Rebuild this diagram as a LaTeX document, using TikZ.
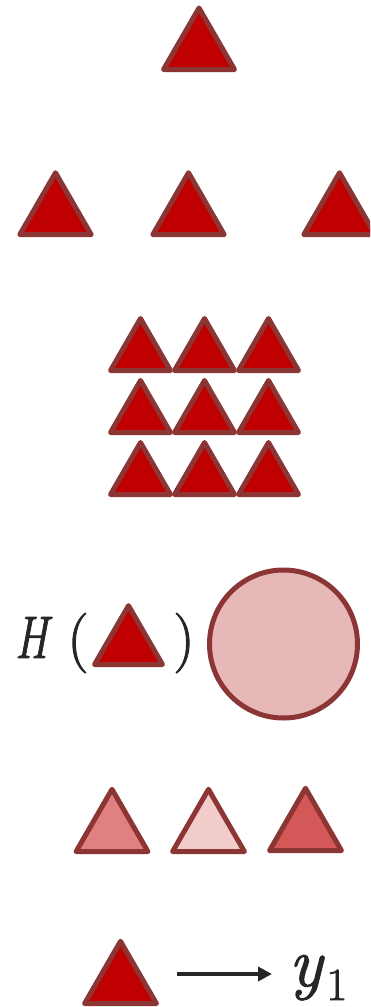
\documentclass[tikz,border=0pt]{standalone}
\usepackage{fontspec}
\usepackage{graphicx}
\newfontfamily\heavyfont[FakeBold=1.6]{Latin Modern Roman}
\usetikzlibrary{shapes.geometric,arrows.meta,calc}
\definecolor{trifill}{HTML}{C00000}
\definecolor{triline}{HTML}{8C3535}
\definecolor{circfill}{HTML}{E6B9B8}
\definecolor{tA}{HTML}{E08181}
\definecolor{tB}{HTML}{F2CBCB}
\definecolor{tC}{HTML}{D55858}
\definecolor{ink}{HTML}{262626}
\tikzset{
  tri/.style={regular polygon, regular polygon sides=3, draw=triline, line width=5pt,
    line join=round, inner sep=0pt, outer sep=0pt, minimum size=#1, fill=trifill},
  tri/.default=82pt,
  mathtxt/.style={inner sep=0pt, outer sep=0pt, text=ink, font=\heavyfont\fontsize{60}{60}\selectfont},
  arr/.style={-{Triangle[length=14pt,width=14pt]}, line width=3.5pt, draw=ink}
}
\begin{document}
\begin{tikzpicture}[x=1pt,y=-1pt]
\useasboundingbox (0,0) rectangle (370,1007);
\clip (0,0) rectangle (370,1007);
% row 1
\node[tri] (t0) at (199,49) {};
% row 2
\node[tri=82.5pt] (r1) at (55.5,214) {};
\node[tri=82.5pt] (r2) at (188.5,214) {};
\node[tri=82.5pt] (r3) at (339.5,214) {};
% grid
\foreach \i/\x in {1/140.5,2/204.5,3/268.5}{
  \foreach \j/\y in {1/353.2,2/415.2,3/477.2}{
    \node[tri=69.3pt] (g\i\j) at (\x,\y) {};
  }
}
% H( ) and circle
\node[mathtxt, anchor=base west] (H) at (15,658) {\scalebox{0.75}[1]{\itshape H}};
\node[mathtxt, anchor=base] (lp) at (78,658) {(};
\node[tri=78.5pt] (th) at (128.5,644.9) {};
\node[mathtxt, anchor=base] (rp) at (184,658) {)};
\node[circle, draw=triline, line width=5pt, fill=circfill, minimum size=148pt, inner sep=0pt] (c) at (283.5,644) {};
% shaded triangles
\node[tri=83pt, fill=tA] (s1) at (112,830.8) {};
\node[tri=83pt, fill=tB] (s2) at (208.5,830.8) {};
\node[tri=83pt, fill=tC] (s3) at (305.5,829.8) {};
% bottom
\node[tri=83pt] (tb) at (120.5,982.8) {};
\node[mathtxt, anchor=base west, font=\heavyfont\fontsize{70}{70}\selectfont] (y1) at (289,986) {\itshape y\kern4pt\raisebox{-14pt}{\fontsize{46}{46}\selectfont\upshape 1}};
\draw[arr] ($(tb.center)+(56.5,-8.8)$) -- ($(y1.base west)+(-17,-12)$);
\end{tikzpicture}
\end{document}
